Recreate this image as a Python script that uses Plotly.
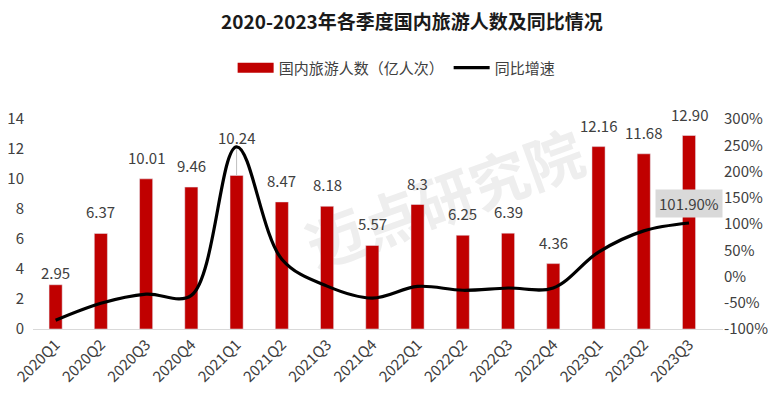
import plotly.graph_objects as go

categories = ["2020Q1", "2020Q2", "2020Q3", "2020Q4", "2021Q1", "2021Q2", "2021Q3", "2021Q4",
              "2022Q1", "2022Q2", "2022Q3", "2022Q4", "2023Q1", "2023Q2", "2023Q3"]
tourists = [2.95, 6.37, 10.01, 9.46, 10.24, 8.47, 8.18, 5.57, 8.3, 6.25, 6.39, 4.36, 12.16, 11.68, 12.90]
tourist_labels = ["2.95", "6.37", "10.01", "9.46", "10.24", "8.47", "8.18", "5.57", "8.3", "6.25",
                  "6.39", "4.36", "12.16", "11.68", "12.90"]
growth = [-83.4, -51.0, -33.6, -36.0, 247.0, 33.0, -18.3, -41.1, -18.9, -26.2, -21.9, -21.7, 46.5, 86.9, 101.9]
growth_label = "101.90%"

left_ticks = [0, 2, 4, 6, 8, 10, 12, 14]
right_ticks = [-100, -50, 0, 50, 100, 150, 200, 250, 300]
right_tick_text = [f"{t}%" for t in right_ticks]

FONT = "Noto Sans CJK SC"
TXT = "#404040"
RED = "#C00000"
BAR_NAME = "国内旅游人数（亿人次）"
WATERMARK = "迈点研究院"

fig = go.Figure()
fig.add_trace(go.Bar(x=categories, y=tourists, name=BAR_NAME, showlegend=False,
                     marker_color=RED, width=0.29, yaxis="y"))
# legend swatch for bars (wide rectangle, as in the reference)
fig.add_trace(go.Scatter(x=[None], y=[None], name=BAR_NAME, mode="lines",
                         line=dict(color=RED, width=11), yaxis="y"))
fig.add_trace(go.Scatter(x=categories, y=growth, name="同比增速", mode="lines",
                         line=dict(color="black", width=3.2, shape="spline", smoothing=1.0),
                         yaxis="y2"))

for c, v, t in zip(categories, tourists, tourist_labels):
    if t == "10.24":
        fig.add_annotation(x=c, y=v, xref="x", yref="y", text=t, showarrow=True,
                           arrowhead=0, arrowwidth=1, arrowcolor="#bfbfbf", ax=0, ay=-38,
                           standoff=0, font=dict(family=FONT, size=15, color=TXT))
    else:
        fig.add_annotation(x=c, y=v, xref="x", yref="y", text=t, showarrow=False,
                           yanchor="bottom", yshift=0 if t == "2.95" else 9,
                           font=dict(family=FONT, size=15, color=TXT))

fig.add_annotation(x=categories[-1], y=growth[-1], xref="x", yref="y2", text=growth_label,
                   showarrow=False, yanchor="bottom", yshift=5, bgcolor="#d9d9d9", borderpad=3,
                   font=dict(family=FONT, size=15, color=TXT))

# faint watermark behind the bars
fig.add_shape(type="rect", xref="paper", yref="paper", x0=0.38, x1=0.82, y0=0.28, y1=0.9,
              line=dict(width=0), fillcolor="rgba(0,0,0,0)", layer="below",
              label=dict(text="<b>" + WATERMARK + "</b>", textangle=-20, textposition="middle center",
                         font=dict(family=FONT, size=58, color="#eeeeee")))

fig.update_layout(
    width=768, height=391,
    margin=dict(l=25, r=53, t=111, b=70, autoexpand=False),
    paper_bgcolor="white", plot_bgcolor="rgba(0,0,0,0)",
    font=dict(family=FONT, color=TXT),
    title=dict(text="<b>2020-2023年各季度国内旅游人数及同比情况</b>", x=0.526, xanchor="center",
               y=0.963, yanchor="middle", font=dict(family=FONT, size=19, color="#1a1a1a")),
    legend=dict(orientation="h", x=0.527, xanchor="center", y=1.243, yanchor="middle",
                font=dict(family=FONT, size=15, color=TXT), bgcolor="rgba(0,0,0,0)",
                itemwidth=36),
    showlegend=True,
    xaxis=dict(tickangle=-45, tickfont=dict(family=FONT, size=15, color=TXT), automargin=False,
               showline=True, linecolor="#d9d9d9", linewidth=1, ticks="", showgrid=False),
    yaxis=dict(range=[0, 14], tickvals=left_ticks, showgrid=False, zeroline=False, automargin=False,
               tickfont=dict(family=FONT, size=15, color=TXT), ticks="", showline=False,
               ticklabelstandoff=8),
    yaxis2=dict(range=[-100, 300], tickvals=right_ticks, ticktext=right_tick_text, overlaying="y",
                side="right", showgrid=False, zeroline=False, automargin=False,
                tickfont=dict(family=FONT, size=15, color=TXT), ticks="", showline=False,
                ticklabelstandoff=0),
)

fig.write_html("out.html")
